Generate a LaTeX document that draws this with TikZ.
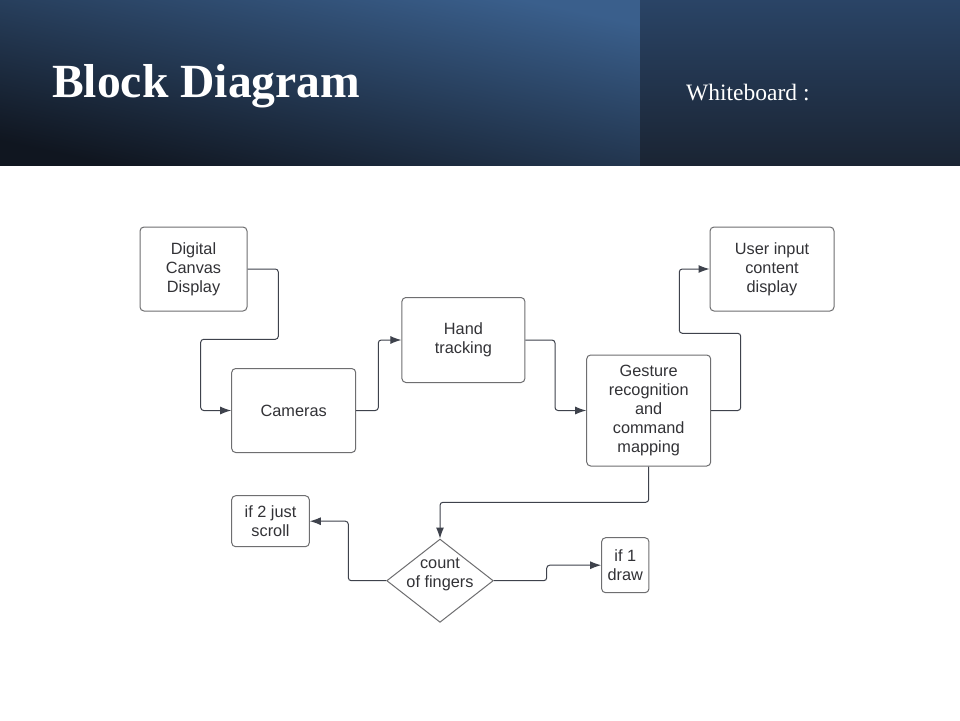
\documentclass[tikz,border=0pt]{standalone}
\usepackage{fontspec}
\setmainfont{Liberation Serif}
\setsansfont{Liberation Sans}
\usetikzlibrary{shapes.geometric, arrows.meta}

\definecolor{hdtop}{RGB}{58,95,140}
\definecolor{hdmid}{RGB}{42,68,100}
\definecolor{hdbot}{RGB}{16,22,32}
\definecolor{sidetop}{RGB}{42,68,102}
\definecolor{sidebot}{RGB}{26,36,51}
\definecolor{boxline}{RGB}{110,110,112}
\definecolor{wire}{RGB}{62,66,76}
\definecolor{txt}{RGB}{50,50,54}

\begin{document}
\begin{tikzpicture}[x=1pt, y=-1pt,
		block/.style={draw=boxline, rounded corners=4pt, line width=1pt, fill=white,
			align=center, text=txt, font=\sffamily\fontsize{16.3}{18.8}\selectfont, inner sep=0pt},
		decision/.style={draw=boxline, diamond, line width=1pt, inner sep=0pt},
		link/.style={-{Latex[length=11pt, width=8pt]}, draw=wire, line width=1pt, rounded corners=3pt}]
		\useasboundingbox (0, 0) rectangle (960, 720);
		\fill[white] (0, 0) rectangle (960, 720);

		% header band
		\shade[top color=hdtop, middle color=hdmid, bottom color=hdbot, shading angle=-12] (0, 0) rectangle (640, 165);
		\shade[top color=sidetop, bottom color=sidebot] (640, 0) rectangle (960, 165);
		\node[anchor=base west, text=white, font=\bfseries\fontsize{47.6}{56}\selectfont, inner sep=0pt] (title) at (52, 97) {Block Diagram};
		\node[anchor=base west, text=white, font=\fontsize{23.5}{28}\selectfont, inner sep=0pt] (side) at (686, 100) {Whiteboard :};

		% blocks
		\node[block, minimum width=107pt, minimum height=84pt] (disp) at (193.5, 269) {Digital\\Canvas\\Display};
		\node[block, minimum width=124pt, minimum height=84pt] (cam) at (293.7, 410.5) {Cameras};
		\node[block, minimum width=123pt, minimum height=85pt] (hand) at (463.4, 340) {Hand\\tracking};
		\node[block, minimum width=124pt, minimum height=111pt] (gest) at (648.7, 410.5) {Gesture\\recognition\\and\\command\\mapping};
		\node[block, minimum width=124pt, minimum height=84pt] (user) at (772, 269) {User input\\content\\display};
		\node[block, minimum width=77.6pt, minimum height=51pt] (scroll) at (270.5, 521.2) {if 2 just\\scroll};
		\node[block, minimum width=47.3pt, minimum height=55pt] (one) at (625.3, 565.2) {if 1\\draw};
		\node[decision, minimum width=106.6pt, minimum height=83.3pt] (count) at (440, 580.7) {};
		\node[align=center, text=txt, font=\sffamily\fontsize{16.3}{18.8}\selectfont, inner sep=0pt] (countlbl) at (440, 574.5) {count\\of fingers};

		% connectors
		\draw[link] (disp.east) -| (278.3, 339.3) -| (200.7, 410.5) -- (cam.west);
		\draw[link] (cam.east) -| (378.3, 340) -- (hand.west);
		\draw[link] (hand.east) -| (555, 410.5) -- (gest.west);
		\draw[link] (gest.east) -| (740.7, 333.3) -| (679.3, 269) -- (user.west);
		\draw[link] (gest.south) |- (440, 502.3) -- (count.north);
		\draw[link] (count.west) -| (348.3, 521.2) -- (scroll.east);
		\draw[link] (count.east) -| (546.7, 565.2) -- (one.west);
	\end{tikzpicture}
\end{document}
